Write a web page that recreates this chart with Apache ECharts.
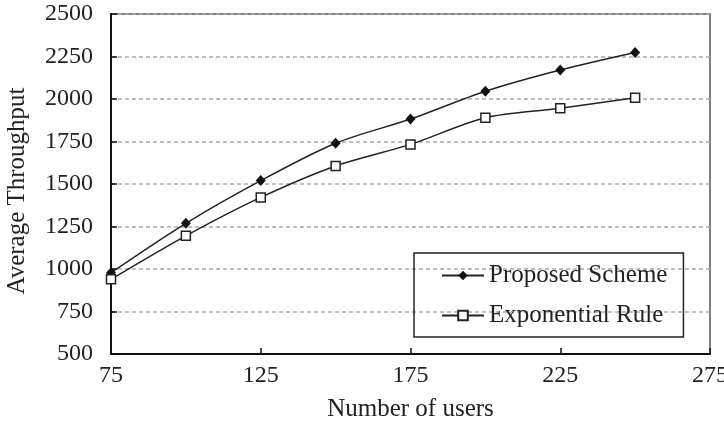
<!DOCTYPE html>
<html>
<head>
<meta charset="utf-8">
<script src="https://cdn.jsdelivr.net/npm/echarts@6/dist/echarts.min.js"></script>
<style>html,body{margin:0;padding:0;background:#fff;}#c{width:724px;height:422px;}</style>
</head>
<body>
<div id="c"></div>
<script>
const users = [75, 100, 125, 150, 175, 200, 225, 250];
const proposedScheme = [978, 1269, 1520, 1740, 1882, 2046, 2171, 2274];
const exponentialRule = [939, 1195, 1421, 1606, 1733, 1890, 1945, 2007];
const seriesNames = ['Proposed Scheme', 'Exponential Rule'];
const xTitle = 'Number of users';
const yTitle = 'Average Throughput';

const font = 'Liberation Serif';
const txt = '#222';
const chart = echarts.init(document.getElementById('c'), null, {renderer: 'canvas'});
const pair = (xs, ys) => xs.map((x, i) => [x, ys[i]]);
chart.setOption({
  animation: false,
  backgroundColor: '#fff',
  grid: {left: 111, right: 14, top: 14, bottom: 68, containLabel: false, outerBoundsMode: 'none',
         show: true, borderColor: '#555', borderWidth: 1.5},
  xAxis: {
    type: 'value', min: 75, max: 275, interval: 50,
    name: xTitle, nameLocation: 'middle', nameGap: 43,
    nameTextStyle: {fontFamily: font, fontSize: 25, color: txt},
    axisLine: {show: true, onZero: false, lineStyle: {color: '#111', width: 2}},
    axisTick: {show: true, inside: true, length: 6, lineStyle: {color: '#111', width: 1.5}},
    axisLabel: {fontFamily: font, fontSize: 24, color: txt, margin: 10, formatter: v => String(v)},
    splitLine: {show: false}
  },
  yAxis: {
    type: 'value', min: 500, max: 2500, interval: 250,
    name: yTitle, nameLocation: 'middle', nameGap: 81, nameRotate: 90,
    nameTextStyle: {fontFamily: font, fontSize: 25, color: txt, padding: [0, 14, 0, 0]},
    axisLine: {show: true, lineStyle: {color: '#111', width: 2}},
    axisTick: {show: true, inside: true, length: 6, lineStyle: {color: '#111', width: 1.5}},
    axisLabel: {fontFamily: font, fontSize: 24, color: txt, margin: 18, formatter: v => String(v)},
    splitLine: {show: true, lineStyle: {color: '#aaa', type: [4, 3], width: 1.5}}
  },
  legend: {
    left: 414, top: 253, orient: 'vertical',
    padding: [10, 16, 9, 27], itemGap: 15,
    itemWidth: 42, itemHeight: 12,
    borderColor: '#222', borderWidth: 1.5,
    textStyle: {fontFamily: font, fontSize: 25, color: txt, lineHeight: 24},
    data: seriesNames
  },
  series: [
    {
      name: seriesNames[0], type: 'line', smooth: 0.3,
      data: pair(users, proposedScheme),
      symbol: 'diamond', symbolSize: [10, 11],
      lineStyle: {color: '#222', width: 1.5},
      itemStyle: {color: '#111', borderColor: '#111', borderWidth: 0}
    },
    {
      name: seriesNames[1], type: 'line', smooth: 0.3,
      data: pair(users, exponentialRule),
      symbol: 'rect', symbolSize: 9,
      lineStyle: {color: '#222', width: 1.5},
      itemStyle: {color: '#fff', borderColor: '#222', borderWidth: 1.5}
    }
  ]
});
</script>
</body>
</html>
